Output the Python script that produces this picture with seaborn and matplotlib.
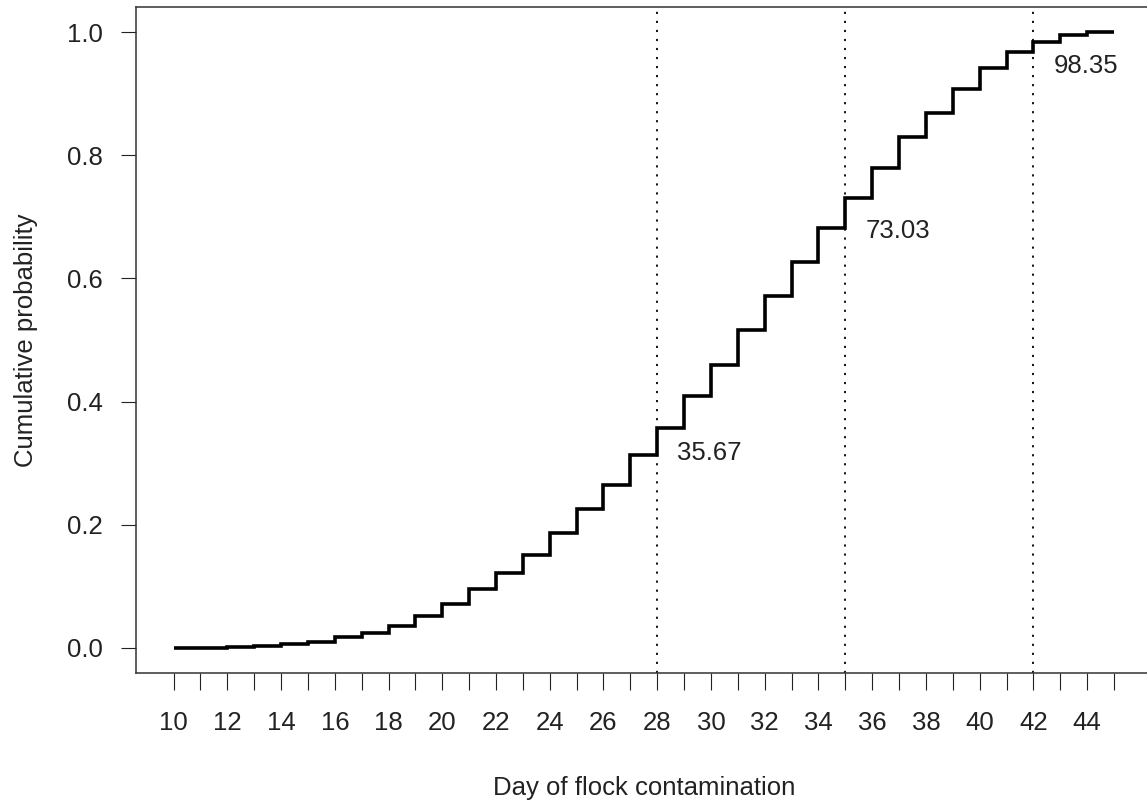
import matplotlib
matplotlib.use("Agg")
import matplotlib.pyplot as plt
import seaborn as sns
import numpy as np
import pandas as pd

# ---- data ----
days = list(range(10, 45))
cum_prob = [0.000, 0.000, 0.001, 0.003, 0.006, 0.009, 0.017, 0.025, 0.036, 0.052,
            0.071, 0.095, 0.121, 0.151, 0.1865, 0.2255, 0.265, 0.3127, 0.3567, 0.4087,
            0.460, 0.516, 0.572, 0.627, 0.682, 0.7303, 0.779, 0.830, 0.868, 0.907,
            0.941, 0.967, 0.9835, 0.995, 1.000]
end_day = 45
marker_days = [28, 35, 42]
marker_labels = ["35.67", "73.03", "98.35"]
x_ticks = list(range(10, 46))
x_ticklabels = [str(d) if d % 2 == 0 and d <= 44 else "" for d in x_ticks]
y_ticks = [0.0, 0.2, 0.4, 0.6, 0.8, 1.0]
y_ticklabels = ["0.0", "0.2", "0.4", "0.6", "0.8", "1.0"]
x_title = "Day of flock contamination"
y_title = "Cumulative probability"

sns.set_theme(style="white")
plt.rcParams['font.family'] = ['Liberation Sans', 'DejaVu Sans']

FS = 18.5
W, H = 1147, 809
fig = plt.figure(figsize=(W / 100, H / 100), dpi=100)
left, right, top, bottom = 136, 1151.6, 7.4, 672.6
ax = fig.add_axes([left / W, 1 - bottom / H, (right - left) / W, (bottom - top) / H])

df = pd.DataFrame({"day": days + [end_day], "p": cum_prob + [cum_prob[-1]]})
sns.lineplot(data=df, x="day", y="p", drawstyle="steps-post", color="black",
             linewidth=2.6, ax=ax, solid_joinstyle="miter", solid_capstyle="butt")

for d in marker_days:
    ax.axvline(d, color="black", linewidth=1.3, linestyle=(0, (1.2, 3.8)))

label_offsets = [-0.040, -0.054, -0.038]
for d, lab, off in zip(marker_days, marker_labels, label_offsets):
    v = cum_prob[days.index(d)]
    ax.text(d + 0.74, v + off, lab, ha="left", va="center", fontsize=FS, color="#222222")

xr = end_day - days[0]
ax.set_xlim(days[0] - 0.04 * xr, end_day + 0.04 * xr)
ax.set_ylim(-0.04, 1.04)

ax.set_xticks(x_ticks)
ax.set_xticklabels(x_ticklabels)
ax.set_yticks(y_ticks)
ax.set_yticklabels(y_ticklabels)
ax.tick_params(axis="x", direction="out", length=12, width=0.8, color="#222222",
               pad=16, labelsize=FS, labelcolor="#222222", bottom=True)
ax.tick_params(axis="y", direction="out", length=11, width=0.8, color="#222222",
               pad=13, labelsize=FS, labelcolor="#222222", left=True)

for s in ax.spines.values():
    s.set_visible(True)
    s.set_color("#333333")
    s.set_linewidth(1.1)

ax.set_xlabel(x_title, fontsize=FS, color="#222222", labelpad=29)
ax.set_ylabel(y_title, fontsize=FS, color="#222222", labelpad=21)

fig.savefig("out.png", dpi=100, facecolor="white")
